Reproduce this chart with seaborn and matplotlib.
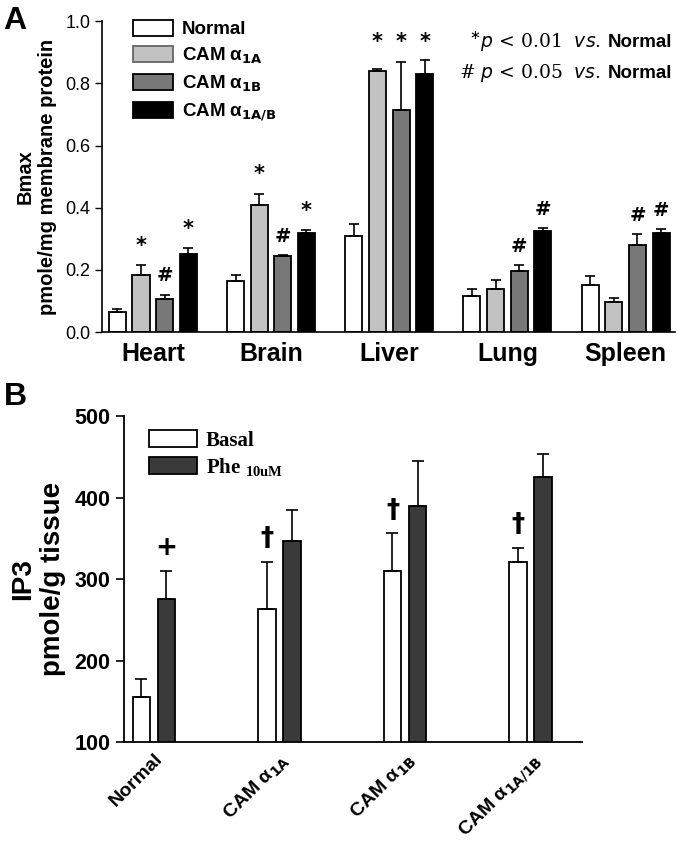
import numpy as np
import pandas as pd
import matplotlib
matplotlib.use("Agg")
import matplotlib.pyplot as plt
import seaborn as sns
from matplotlib.patches import Patch

sns.set_theme(style="ticks")
plt.rcParams['font.family'] = ['Liberation Sans', 'DejaVu Sans']
plt.rcParams['text.color'] = 'black'
plt.rcParams['axes.labelcolor'] = 'black'
plt.rcParams['xtick.color'] = 'black'
plt.rcParams['ytick.color'] = 'black'

# ---------------- Data: Panel A ----------------
tissues = ["Heart", "Brain", "Liver", "Lung", "Spleen"]
groups_a = ["Normal", "CAM α1A", "CAM α1B", "CAM α1A/B"]
legend_a = ["Normal", r"CAM α$_{\mathbf{1A}}$", r"CAM α$_{\mathbf{1B}}$", r"CAM α$_{\mathbf{1A/B}}$"]
bmax_normal = [0.065, 0.165, 0.31, 0.115, 0.15]
bmax_1a = [0.185, 0.41, 0.84, 0.14, 0.095]
bmax_1b = [0.105, 0.245, 0.715, 0.195, 0.28]
bmax_1ab = [0.25, 0.32, 0.83, 0.325, 0.32]
err_normal = [0.01, 0.02, 0.037, 0.025, 0.03]
err_1a = [0.03, 0.035, 0.008, 0.028, 0.015]
err_1b = [0.015, 0.003, 0.155, 0.02, 0.035]
err_1ab = [0.02, 0.008, 0.045, 0.01, 0.012]
marks_a = [
    ["", "", "", "", ""],
    ["*", "*", "*", "", ""],
    ["#", "#", "*", "#", "#"],
    ["*", "*", "*", "#", "#"],
]
colors_a = ["#ffffff", "#c2c2c2", "#787878", "#000000"]

# ---------------- Data: Panel B ----------------
groups_b = ["Normal", "CAM α1A", "CAM α1B", "CAM α1A/1B"]
ticklabels_b = ["Normal", r"CAM α$_{\mathbf{1A}}$", r"CAM α$_{\mathbf{1B}}$", r"CAM α$_{\mathbf{1A/1B}}$"]
conds_b = ["Basal", "Phe 10uM"]
ip3_basal = [155, 263, 310, 321]
ip3_phe = [275, 347, 390, 425]
err_basal = [22, 58, 46, 17]
err_phe = [35, 38, 55, 29]
marks_b = [
    ["", "†", "†", "†"],
    ["+", "", "", ""],
]
colors_b = ["#ffffff", "#3a3a3a"]

# ---------------- Figure ----------------
fig = plt.figure(figsize=(6.8, 8.42), dpi=100)
axA = fig.add_axes([0.150, 0.6057, 0.843, 0.369])
axB = fig.add_axes([0.182, 0.1188, 0.674, 0.387])

# Panel A
vals_a = [bmax_normal, bmax_1a, bmax_1b, bmax_1ab]
errs_a = [err_normal, err_1a, err_1b, err_1ab]
df_a = pd.DataFrame({
    "tissue": np.tile(tissues, len(groups_a)),
    "group": np.repeat(groups_a, len(tissues)),
    "value": np.concatenate(vals_a),
})
sns.barplot(data=df_a, x="tissue", y="value", hue="group", order=tissues,
            hue_order=groups_a, palette=colors_a, edgecolor="black",
            linewidth=1.3, width=0.8, gap=0.28, errorbar=None, legend=False, ax=axA)
bar_conts_a = list(axA.containers)
for i, cont in enumerate(bar_conts_a):
    xs = [p.get_x() + p.get_width() / 2 for p in cont.patches]
    hs = [p.get_height() for p in cont.patches]
    axA.errorbar(xs, hs, yerr=[np.zeros(len(hs)), errs_a[i]], fmt="none",
                 ecolor="black", elinewidth=1.2, capsize=3.5, capthick=1.2)
    for j, (x, h, e, m) in enumerate(zip(xs, hs, errs_a[i], marks_a[i])):
        if m:
            y = 0.9 if tissues[j] == "Liver" else h + e + 0.03
            axA.text(x, y, m, ha="center", va="bottom", fontsize=14 if m == "#" else 15,
                     fontweight="bold", family="DejaVu Sans")

axA.set_xlim(-0.43, 4.42)
axA.set_ylim(0, 1.0)
axA.set_yticks([0.0, 0.2, 0.4, 0.6, 0.8, 1.0])
axA.set_yticklabels(["0.0", "0.2", "0.4", "0.6", "0.8", "1.0"], fontsize=13)
axA.set_xticks(range(len(tissues)))
axA.set_xticklabels(tissues, fontsize=18, fontweight="bold")
axA.tick_params(axis="x", length=0, pad=7)
axA.tick_params(axis="y", length=5, width=1, direction="out")
axA.set_xlabel("")
axA.set_ylabel("Bmax\npmole/mg membrane protein", fontsize=14.5, fontweight="bold", labelpad=6)
sns.despine(ax=axA)
for s in ["left", "bottom"]:
    axA.spines[s].set_linewidth(1.2)
    axA.spines[s].set_color("black")

handles_a = [Patch(facecolor=c, edgecolor="black" if c != "#c2c2c2" else "#666666", linewidth=1.3)
             for c in colors_a]
legA = axA.legend(handles_a, legend_a, loc="upper left", bbox_to_anchor=(0.025, 1.06),
                  frameon=False, handlelength=2.1, handleheight=0.95, labelspacing=0.4,
                  handletextpad=0.5, prop={"weight": "bold", "size": 13.5})

# significance legend (top right)
fig.canvas.draw()
rend = fig.canvas.get_renderer()
for yy, txt in [(0.950, r"$^{\ast}$$\it{p}$ < 0.01  $\it{vs}$."),
                (0.913, r"# $\it{p}$ < 0.05  $\it{vs}$.")]:
    t_norm = fig.text(0.988, yy, "Normal", ha="right", va="center", fontsize=13.5,
                      fontweight="bold")
    bb = t_norm.get_window_extent(renderer=rend)
    x0 = bb.x0 / fig.bbox.width - 0.009
    fig.text(x0, yy, txt, ha="right", va="center", fontsize=13.5, family="DejaVu Serif")

# Panel B
vals_b = [ip3_basal, ip3_phe]
errs_b = [err_basal, err_phe]
df_b = pd.DataFrame({
    "group": np.tile(groups_b, len(conds_b)),
    "cond": np.repeat(conds_b, len(groups_b)),
    "value": np.concatenate(vals_b),
})
sns.barplot(data=df_b, x="group", y="value", hue="cond", order=groups_b,
            hue_order=conds_b, palette=colors_b, edgecolor="black",
            linewidth=1.3, width=0.4, gap=0.3, errorbar=None, legend=False, ax=axB)
axB.set_ylim(100, 500)
bar_conts_b = list(axB.containers)
for i, cont in enumerate(bar_conts_b):
    xs = [p.get_x() + p.get_width() / 2 for p in cont.patches]
    hs = [p.get_y() + p.get_height() for p in cont.patches]
    axB.errorbar(xs, hs, yerr=[np.zeros(len(hs)), errs_b[i]], fmt="none",
                 ecolor="black", elinewidth=1.2, capsize=4, capthick=1.2)
    for x, h, e, m in zip(xs, hs, errs_b[i], marks_b[i]):
        if m:
            axB.text(x, h + e + 12, m, ha="center", va="bottom", fontsize=19,
                     fontweight="bold", family="DejaVu Sans")

axB.set_xlim(-0.24, 3.41)
axB.set_yticks([100, 200, 300, 400, 500])
axB.set_yticklabels(["100", "200", "300", "400", "500"], fontsize=15.5, fontweight="bold")
axB.set_xticks(range(len(groups_b)))
axB.set_xticklabels(ticklabels_b, fontsize=14, fontweight="bold", rotation=45,
                    ha="right", rotation_mode="anchor")
axB.tick_params(axis="x", length=0, pad=6)
axB.tick_params(axis="y", length=6, width=1.2, direction="out")
axB.set_xlabel("")
axB.set_ylabel("IP3\npmole/g tissue", fontsize=20, fontweight="bold", labelpad=6)
sns.despine(ax=axB)
for s in ["left", "bottom"]:
    axB.spines[s].set_linewidth(1.3)
    axB.spines[s].set_color("black")

handles_b = [Patch(facecolor=c, edgecolor="black", linewidth=1.3) for c in colors_b]
legB = axB.legend(handles_b, ["Basal", r"Phe $\mathregular{_{10uM}}$"], loc="upper left",
                  bbox_to_anchor=(0.015, 1.015), frameon=False, handlelength=2.3,
                  handleheight=0.9, labelspacing=0.25, handletextpad=0.4,
                  prop={"family": "Liberation Serif", "weight": "bold", "size": 15})

fig.text(0.005, 0.975, "A", fontsize=23, fontweight="bold", va="center")
fig.text(0.005, 0.528, "B", fontsize=23, fontweight="bold", va="center")

fig.savefig("out.png", dpi=100, facecolor="white")
